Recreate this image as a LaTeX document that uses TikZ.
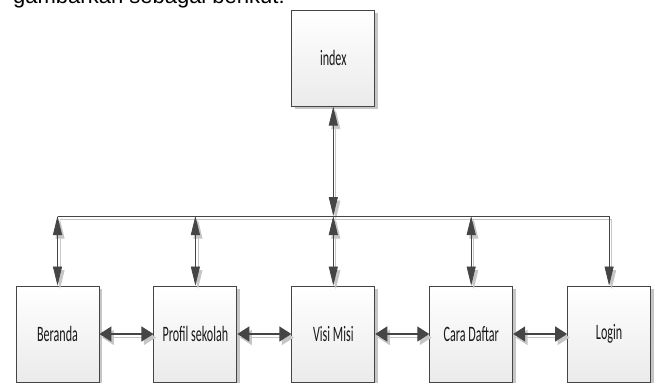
\documentclass[tikz,border=0pt]{standalone}
\usepackage{fontspec}
\newfontfamily\boxfont{Carlito}
\newfontfamily\introfont{Liberation Sans}
\usetikzlibrary{arrows.meta, positioning, shadows}
\definecolor{edgegray}{HTML}{454545}
\definecolor{shadegray}{HTML}{C6C6C6}
\newcommand{\squeeze}[1]{\scalebox{0.55}[1]{#1}}
\tikzset{%
	pagebox/.style={
		draw=edgegray,
		line width=0.9pt,
		top color=white,
		bottom color=black!8,
		minimum width=83pt,
		minimum height=96pt,
		inner sep=0pt,
		text=black!90,
		font=\boxfont\fontsize{22}{24}\selectfont,
		drop shadow={shadow xshift=3pt, shadow yshift=-3pt, fill=shadegray, opacity=1}
	},
	vlink/.style={
		draw=edgegray,
		line width=0.8pt,
		{Triangle[length=19pt,width=9pt]}-{Triangle[length=19pt,width=9pt]}
	},
	hlink/.style={
		draw=edgegray,
		line width=1.4pt,
		{Triangle[length=12pt,width=15pt]}-{Triangle[length=12pt,width=15pt]}
	},
	busline/.style={
		draw=edgegray,
		line width=0.8pt,
		-{Triangle[length=19pt,width=9pt]}
	},
	shade/.style={
		draw=shadegray,
		transform canvas={xshift=2.5pt, yshift=-3.5pt}
	},
}
\begin{document}
\begin{tikzpicture}[x=1pt, y=-1pt]
	\clip (0,0) rectangle (654,383);
	\fill[white] (0,0) rectangle (654,383);
	
	% cut-off line of the surrounding text
	\node[anchor=base west, inner sep=0pt, font=\introfont\fontsize{22}{24}\selectfont] (intro) at (13,3.5) {gambarkan sebagai berikut:};
	
	% pages of the site
	\node[pagebox] (beranda) at (57.5,334) {\squeeze{Beranda}};
	\node[pagebox, right=54pt of beranda] (profil) {\squeeze{Profil sekolah}};
	\node[pagebox, right=54pt of profil] (visi) {\squeeze{Visi Misi}};
	\node[pagebox, right=54pt of visi] (cara) {\squeeze{Cara Daftar}};
	\node[pagebox, right=54pt of cara] (login) {\squeeze{Login}};
	\node[pagebox, above=179pt of visi] (index) {\squeeze{index}};
	
	\coordinate (bus) at (0,216);
	
	% shadows of the connectors
	\draw[busline, shade] (beranda.north |- bus) -- (login.north |- bus) -- (login.north);
	\draw[vlink, shade] (index.south) -- (index.south |- bus);
	\foreach \p in {beranda, profil, visi, cara}
		\draw[vlink, shade] (\p.north |- bus) -- (\p.north);
	\draw[hlink, shade] (beranda.east) -- (profil.west);
	\draw[hlink, shade] (profil.east) -- (visi.west);
	\draw[hlink, shade] (visi.east) -- (cara.west);
	\draw[hlink, shade] (cara.east) -- (login.west);
	
	% connectors
	\draw[busline] (beranda.north |- bus) -- (login.north |- bus) -- (login.north);
	\draw[vlink] (index.south) -- (index.south |- bus);
	\foreach \p in {beranda, profil, visi, cara}
		\draw[vlink] (\p.north |- bus) -- (\p.north);
	\draw[hlink] (beranda.east) -- (profil.west);
	\draw[hlink] (profil.east) -- (visi.west);
	\draw[hlink] (visi.east) -- (cara.west);
	\draw[hlink] (cara.east) -- (login.west);
\end{tikzpicture}
\end{document}
